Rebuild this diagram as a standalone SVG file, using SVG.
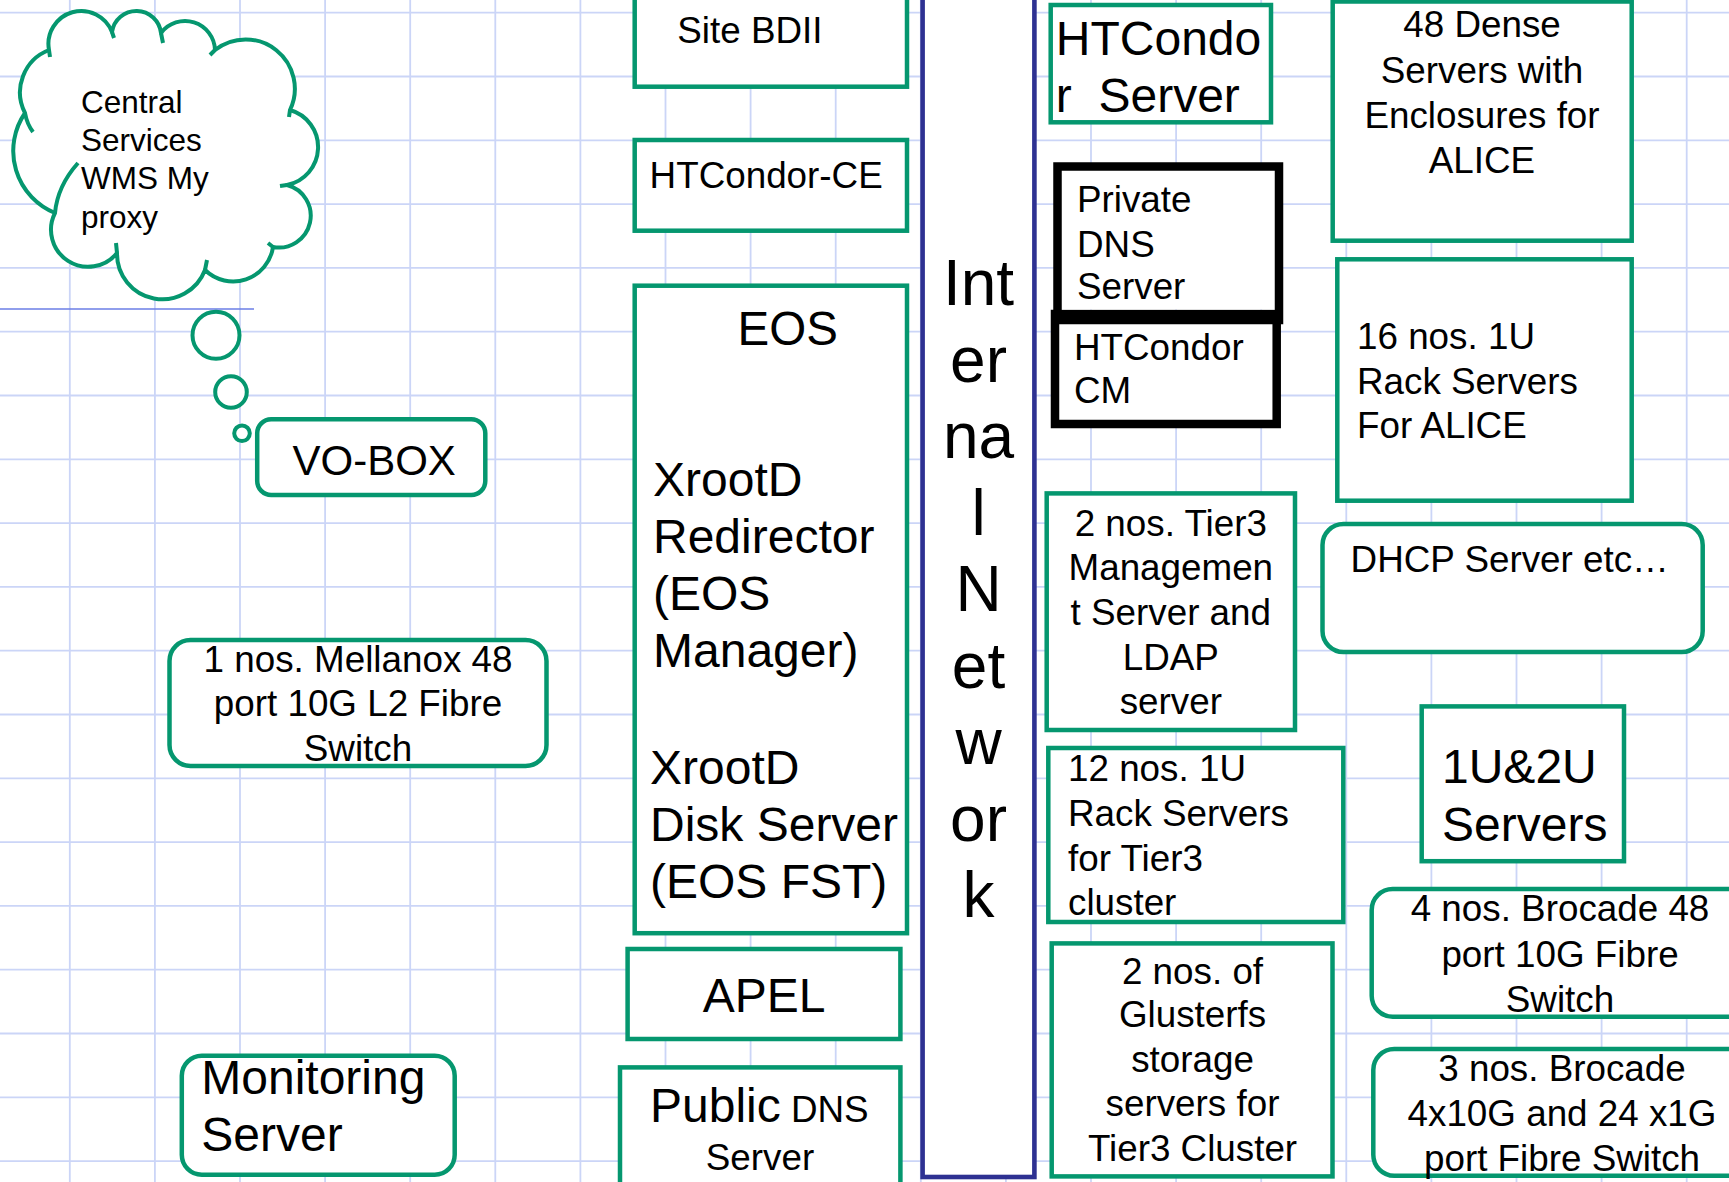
<svg xmlns="http://www.w3.org/2000/svg" width="1729" height="1182" viewBox="0 0 1729 1182">
<style>
.t{font-family:"Liberation Sans",Arial,sans-serif;fill:#000}
.s{font-size:36.8px}
.l{font-size:48px}
.m{text-anchor:middle}
.g{fill:#fff;stroke:#05976f;stroke-width:4.5}
.k{fill:none;stroke:#000;stroke-width:8.5}
.n{fill:#fff;stroke:#2e3192;stroke-width:4.6}
.grid{fill:none;stroke:#cbd5f7;stroke-width:1.8}
.cl{fill:#fff;stroke:#05976f;stroke-width:4;stroke-linejoin:round}
.tick{fill:none;stroke:#05976f;stroke-width:4;stroke-linecap:butt}
</style>
<rect width="1729" height="1182" fill="#fff"/>
<g id="grid">
<path class="grid" d="M69.8,0V1182M154.9,0V1182M240,0V1182M325.1,0V1182M410.2,0V1182M495.3,0V1182M580.4,0V1182M665.5,0V1182M750.6,0V1182M835.7,0V1182M920.8,0V1182M1005.9,0V1182M1091,0V1182M1176.1,0V1182M1261.2,0V1182M1346.3,0V1182M1431.4,0V1182M1516.5,0V1182M1601.6,0V1182M1686.7,0V1182"/>
<path class="grid" d="M0,12.7H1729M0,76.5H1729M0,140.3H1729M0,204.1H1729M0,267.9H1729M0,331.7H1729M0,395.5H1729M0,459.3H1729M0,523.1H1729M0,586.9H1729M0,650.7H1729M0,714.5H1729M0,778.3H1729M0,842.1H1729M0,905.9H1729M0,969.7H1729M0,1033.5H1729M0,1097.3H1729M0,1161.1H1729"/>
<line x1="0" y1="309" x2="254" y2="309" stroke="#6b7ee6" stroke-width="1.6"/>
</g>
<g id="connectors"></g>
<g id="central-services">
<path class="cl" d="M49,50A32.9,32.9 0 0 1 112,32A24.7,24.7 0 0 1 161,33A30,30 0 0 1 215,50A49.3,49.3 0 0 1 290,110A38.6,38.6 0 0 1 287,185A31.8,31.8 0 0 1 273,247A40.3,40.3 0 0 1 205,270A45.5,45.5 0 0 1 117,253A37.1,37.1 0 0 1 55,213A67,67 0 0 1 25,113A45.4,45.4 0 0 1 49,50Z"/>
<path class="tick" d="M49,50L50,57M112,32L114,38M161,33L163,43M215,50L210,55M290,110L289,117M287,185L280,186M273,247L268,243M205,270L207,260M117,253L116,243M55,213Q57.5,186 78,163M25,113Q27,124 33,132"/>
<circle class="cl" cx="216" cy="335.3" r="23.5"/>
<circle class="cl" cx="231" cy="392" r="15.8"/>
<circle class="cl" cx="242" cy="433.3" r="7.8"/>
<text class="t" style="font-size:31.5px" x="81"><tspan x="81" y="113">Central</tspan><tspan x="81" y="151.2">Services</tspan><tspan x="81" y="189.4">WMS My</tspan><tspan x="81" y="227.6">proxy</tspan></text>
</g>
<g id="vo-box">
<rect class="g" x="257.2" y="419.3" width="228.1" height="75.7" rx="14"/>
<text class="t" style="font-size:42px" x="292.5" y="475">VO-BOX</text>
</g>
<g id="mellanox-switch">
<rect class="g" x="169.5" y="640" width="377" height="126" rx="21"/>
<text class="t s m"><tspan x="358" y="671.7">1 nos. Mellanox 48</tspan><tspan x="358" y="716">port 10G L2 Fibre</tspan><tspan x="358" y="760.9">Switch</tspan></text>
</g>
<g id="monitoring-server">
<rect class="g" x="181.8" y="1055.7" width="272.9" height="119.1" rx="20"/>
<text class="t l"><tspan x="201.3" y="1093.5">Monitoring</tspan><tspan x="201.3" y="1150.9">Server</tspan></text>
</g>
<g id="site-bdii">
<rect class="g" x="634.7" y="-10" width="272.3" height="96.7"/>
<text class="t s" x="677.3" y="42.7">Site BDII</text>
</g>
<g id="htcondor-ce">
<rect class="g" x="634.7" y="140" width="272.3" height="90.7"/>
<text class="t s" x="649.6" y="188">HTCondor-CE</text>
</g>
<g id="eos">
<rect class="g" x="634.7" y="285.7" width="272.3" height="647.5"/>
<text class="t" style="font-size:47.5px" x="737.5" y="345">EOS</text>
<text class="t l"><tspan x="653" y="496">XrootD</tspan><tspan x="653" y="553">Redirector</tspan><tspan x="653" y="610">(EOS</tspan><tspan x="653" y="667">Manager)</tspan></text>
<text class="t l"><tspan x="650" y="783.5">XrootD</tspan><tspan x="650" y="841">Disk Server</tspan><tspan x="650" y="898">(EOS FST)</tspan></text>
</g>
<g id="apel">
<rect class="g" x="627.6" y="949" width="272.8" height="90"/>
<text class="t l m" x="764" y="1012">APEL</text>
</g>
<g id="public-dns">
<rect class="g" x="620" y="1067.4" width="280.4" height="140"/>
<text class="t" x="650" y="1122"><tspan class="l">Public</tspan><tspan class="s"> DNS</tspan></text>
<text class="t s m" x="760" y="1170">Server</text>
</g>
<g id="internal-network">
<rect class="n" x="922.6" y="-10" width="111.8" height="1187"/>
<text class="t m" style="font-size:64px"><tspan x="978.5" y="305">Int</tspan><tspan x="978.5" y="381.5">er</tspan><tspan x="978.5" y="458">na</tspan><tspan x="978.5" y="534.5">l</tspan><tspan x="978.5" y="611">N</tspan><tspan x="978.5" y="687.5">et</tspan><tspan x="978.5" y="764">w</tspan><tspan x="978.5" y="840.5">or</tspan><tspan x="978.5" y="917">k</tspan></text>
</g>
<g id="htcondor-server">
<rect class="g" x="1050.7" y="5" width="220.3" height="117.3"/>
<text class="t l"><tspan x="1055.8" y="55">HTCondo</tspan><tspan x="1055.8" y="111.7" xml:space="preserve" style="white-space:pre">r  Server</tspan></text>
</g>
<g id="htcondor-cm">
<rect x="1055" y="314" width="221.7" height="110" fill="#fff"/>
<rect class="k" x="1055" y="314" width="221.7" height="110"/>
<text class="t s"><tspan x="1074" y="360">HTCondor</tspan><tspan x="1074" y="403.3">CM</tspan></text>
</g>
<g id="private-dns">
<rect x="1057.5" y="166.5" width="221.5" height="143" fill="#fff"/>
<rect class="k" x="1057.5" y="166.5" width="221.5" height="153.5"/>
<text class="t s"><tspan x="1077" y="211.7">Private</tspan><tspan x="1077" y="256.7">DNS</tspan><tspan x="1077" y="299.3">Server</tspan></text>
</g>
<g id="tier3-management">
<rect class="g" x="1046.7" y="493.4" width="248.3" height="236.6"/>
<text class="t s m"><tspan x="1170.8" y="535.8">2 nos. Tier3</tspan><tspan x="1170.8" y="580.4">Managemen</tspan><tspan x="1170.8" y="625">t Server and</tspan><tspan x="1170.8" y="669.7">LDAP</tspan><tspan x="1170.8" y="714.4">server</tspan></text>
</g>
<g id="tier3-rack-servers">
<rect class="g" x="1048.3" y="748" width="295" height="174"/>
<text class="t s"><tspan x="1068" y="781.3">12 nos. 1U</tspan><tspan x="1068" y="826">Rack Servers</tspan><tspan x="1068" y="870.6">for Tier3</tspan><tspan x="1068" y="915.3">cluster</tspan></text>
</g>
<g id="glusterfs">
<rect class="g" x="1051.7" y="943.4" width="280.8" height="233"/>
<text class="t s m"><tspan x="1192.5" y="983.6">2 nos. of</tspan><tspan x="1192.5" y="1027">Glusterfs</tspan><tspan x="1192.5" y="1071.5">storage</tspan><tspan x="1192.5" y="1116.2">servers for</tspan><tspan x="1192.5" y="1160.8">Tier3 Cluster</tspan></text>
</g>
<g id="dense-servers">
<rect class="g" x="1332.7" y="1.5" width="299" height="239.2"/>
<text class="t s m"><tspan x="1482" y="37.3">48 Dense</tspan><tspan x="1482" y="82.7">Servers with</tspan><tspan x="1482" y="127.7">Enclosures for</tspan><tspan x="1482" y="172.7">ALICE</tspan></text>
</g>
<g id="alice-rack-servers">
<rect class="g" x="1337.3" y="259.3" width="294.4" height="241.4"/>
<text class="t s"><tspan x="1357" y="349">16 nos. 1U</tspan><tspan x="1357" y="394">Rack Servers</tspan><tspan x="1357" y="438.3">For ALICE</tspan></text>
</g>
<g id="dhcp-server">
<rect class="g" x="1322.5" y="524" width="380.2" height="128" rx="21"/>
<text class="t s" x="1350.6" y="571.7">DHCP Server etc…</text>
</g>
<g id="servers-1u2u">
<rect class="g" x="1421.7" y="706.4" width="202.3" height="154.8"/>
<text class="t l"><tspan x="1442" y="783.4">1U&amp;2U</tspan><tspan x="1442" y="841.2">Servers</tspan></text>
</g>
<g id="brocade-48">
<rect class="g" x="1371.7" y="888.9" width="376.6" height="127.9" rx="21"/>
<text class="t s m"><tspan x="1560" y="920.7">4 nos. Brocade 48</tspan><tspan x="1560" y="966.7">port 10G Fibre</tspan><tspan x="1560" y="1011.6">Switch</tspan></text>
</g>
<g id="brocade-24">
<rect class="g" x="1373.3" y="1048.9" width="377.4" height="126.9" rx="21"/>
<text class="t s m"><tspan x="1562" y="1080.7">3 nos. Brocade</tspan><tspan x="1562" y="1125.7">4x10G and 24 x1G</tspan><tspan x="1562" y="1170.6">port Fibre Switch</tspan></text>
</g>
</svg>
